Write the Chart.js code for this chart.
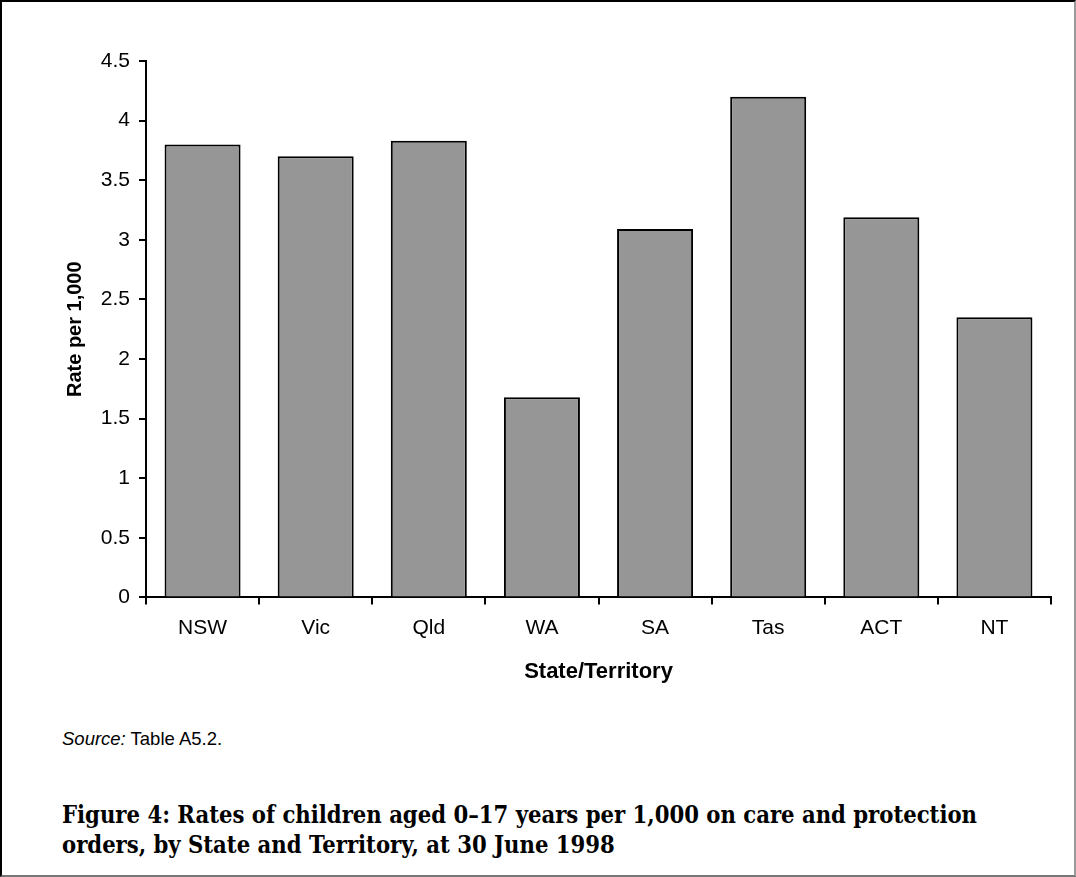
<!DOCTYPE html>
<html>
<head>
<meta charset="utf-8">
<script src="https://cdn.jsdelivr.net/npm/chart.js@4"></script>
<style>
  body { margin: 0; background: #fff; }
  #frame {
    position: absolute; left: 0; top: 0; width: 1072px; height: 873px;
    border-left: 2px solid #000; border-top: 2px solid #000;
    border-right: 2px solid #999; border-bottom: 2px solid #777;
  }
  #chart { position: absolute; left: 0; top: 0; }
  #source {
    position: absolute; left: 62px; top: 728px;
    font: 18.5px "Liberation Sans", Arial, sans-serif; color: #000;
  }
  .caption {
    position: absolute; left: 62px; white-space: nowrap;
    font: bold 24px "DejaVu Serif", serif; color: #000;
    transform-origin: 0 0;
  }
</style>
</head>
<body>
<div id="frame"></div>
<canvas id="chart" width="1076" height="685"></canvas>
<div id="source"><i>Source:</i> Table A5.2.</div>
<div class="caption" id="cap1" style="top:800px">Figure 4: Rates of children aged 0–17 years per 1,000 on care and protection</div>
<div class="caption" id="cap2" style="top:830px">orders, by State and Territory, at 30 June 1998</div>
<script>
// values
const states = ['NSW', 'Vic', 'Qld', 'WA', 'SA', 'Tas', 'ACT', 'NT'];
const rates = [3.80, 3.70, 3.83, 1.68, 3.09, 4.20, 3.19, 2.35];
const yMax = 4.5;
const yStep = 0.5;

const fontFamily = '"Liberation Sans", Arial, sans-serif';
const tickFont = { family: fontFamily, size: 21 };

new Chart(document.getElementById('chart'), {
    type: 'bar',
    data: {
        labels: states,
        datasets: [{
            data: rates,
            backgroundColor: '#969696',
            borderColor: '#000',
            borderWidth: 2,
            borderSkipped: 'bottom',
            categoryPercentage: 1,
            barPercentage: 0.672
        }]
    },
    options: {
        responsive: false,
        animation: false,
        devicePixelRatio: 1,
        layout: { padding: { left: 0, right: 25, top: 61, bottom: 0 } },
        plugins: { legend: { display: false }, tooltip: { enabled: false } },
        scales: {
            x: {
                offset: true,
                grid: { offset: true, drawOnChartArea: false, drawTicks: true, tickLength: 7, color: '#000', lineWidth: 2 },
                border: { display: true, color: '#000', width: 2 },
                ticks: { color: '#000', font: tickFont, padding: 11, maxRotation: 0 },
                title: {
                    display: true, text: 'State/Territory', color: '#000',
                    font: { family: fontFamily, size: 22, weight: 'bold' },
                    padding: { top: 7, bottom: 0 }
                }
            },
            y: {
                min: 0,
                max: yMax,
                grid: { drawOnChartArea: false, drawTicks: true, tickLength: 7, color: '#000', lineWidth: 2 },
                border: { display: true, color: '#000', width: 2 },
                ticks: { stepSize: yStep, color: '#000', font: tickFont, padding: 9, callback: (v) => String(v) },
                title: {
                    display: true, text: 'Rate per 1,000', color: '#000',
                    font: { family: fontFamily, size: 20, weight: 'bold' },
                    padding: { top: 63, bottom: 0 }
                },
                afterFit: (scale) => { scale.width = 146; }
            }
        }
    }
});

// squeeze the serif caption lines to the width they take in the figure
const capWidth = 915;
const w1 = document.getElementById('cap1').getBoundingClientRect().width;
const k = capWidth / w1;
for (const id of ['cap1', 'cap2']) {
    document.getElementById(id).style.transform = 'scaleX(' + k + ')';
}
</script>
</body>
</html>
